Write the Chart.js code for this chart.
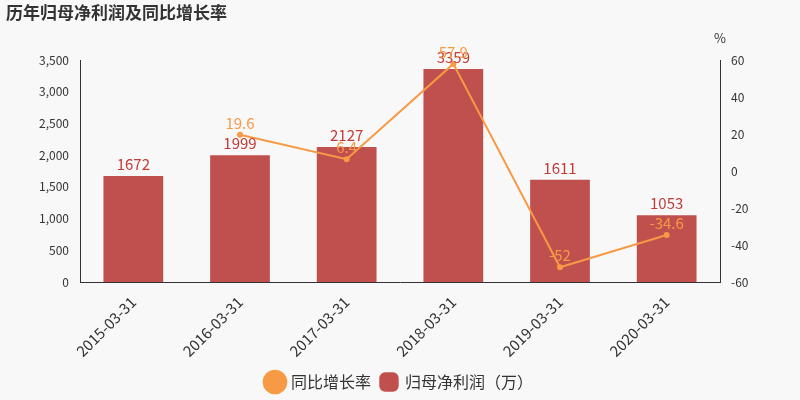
<!DOCTYPE html>
<html><head><meta charset="utf-8">
<script src="https://cdn.jsdelivr.net/npm/chart.js@4/dist/chart.umd.min.js"></script>
<style>html,body{margin:0;background:#f8f8f8}#w{width:800px;height:400px}</style>
</head><body><div id="w"><canvas id="c"></canvas></div>
<script>
const categories=['2015-03-31','2016-03-31','2017-03-31','2018-03-31','2019-03-31','2020-03-31'];
const profit=[1672,1999,2127,3359,1611,1053];
const growth=[null,19.6,6.4,57.9,-52,-34.6];
const leftTicks=[0,500,1000,1500,2000,2500,3000,3500];
const rightTicks=[-60,-40,-20,0,20,40,60];
const F='"Noto Sans CJK SC","DejaVu Sans",sans-serif';
const labelPlugin={id:'lbl',afterDatasetsDraw(ch){
 const c=ch.ctx;c.save();c.font='15px '+F;c.textAlign='center';c.textBaseline='bottom';
 ch.getDatasetMeta(0).data.forEach((b,i)=>{c.fillStyle='#c23b36';c.fillText(profit[i],b.x,b.y-4);});
 ch.getDatasetMeta(1).data.forEach((p,i)=>{if(growth[i]==null)return;c.fillStyle='#f79a45';c.fillText(growth[i],p.x,p.y-4);});
 c.font='bold 17px '+F;c.textAlign='left';c.textBaseline='top';c.fillStyle='#333';c.fillText('历年归母净利润及同比增长率',6,4);
 c.font='13px '+F;c.fillStyle='#333';c.textAlign='center';c.fillText('%',720,32);
 c.restore();}};
new Chart(document.getElementById('c'),{
 data:{labels:categories,datasets:[
  {type:'bar',label:'归母净利润（万）',data:profit,backgroundColor:'#c0504d',yAxisID:'y',barPercentage:0.56,categoryPercentage:1,order:2,pointStyle:'rectRounded'},
  {type:'line',label:'同比增长率',data:growth,borderColor:'#f79a45',backgroundColor:'#f79a45',borderWidth:2,pointRadius:2,yAxisID:'y1',order:1,tension:0,pointStyle:'circle'}]},
 options:{responsive:true,maintainAspectRatio:false,animation:false,
  layout:{padding:{top:60,right:0,left:0,bottom:0}},
  plugins:{legend:{position:'bottom',labels:{usePointStyle:true,font:{size:16,family:F},color:'#333',padding:10}},tooltip:{enabled:false}},
  scales:{
   x:{grid:{display:false},border:{color:'#333'},ticks:{color:'#333',font:{size:15,family:F},maxRotation:45,minRotation:45},afterFit(s){s.height=82}},
   y:{position:'left',min:0,max:3500,afterBuildTicks(s){s.ticks=leftTicks.map(v=>({value:v}))},grid:{display:false},border:{color:'#333'},ticks:{color:'#333',font:{size:12,family:F},callback:v=>v.toLocaleString('en-US')},afterFit(s){s.width=80}},
   y1:{position:'right',min:-60,max:60,afterBuildTicks(s){s.ticks=rightTicks.map(v=>({value:v}))},grid:{display:false},border:{color:'#333'},ticks:{color:'#333',font:{size:12,family:F}},afterFit(s){s.width=80}}
  }},
 plugins:[labelPlugin]});
</script></body></html>
